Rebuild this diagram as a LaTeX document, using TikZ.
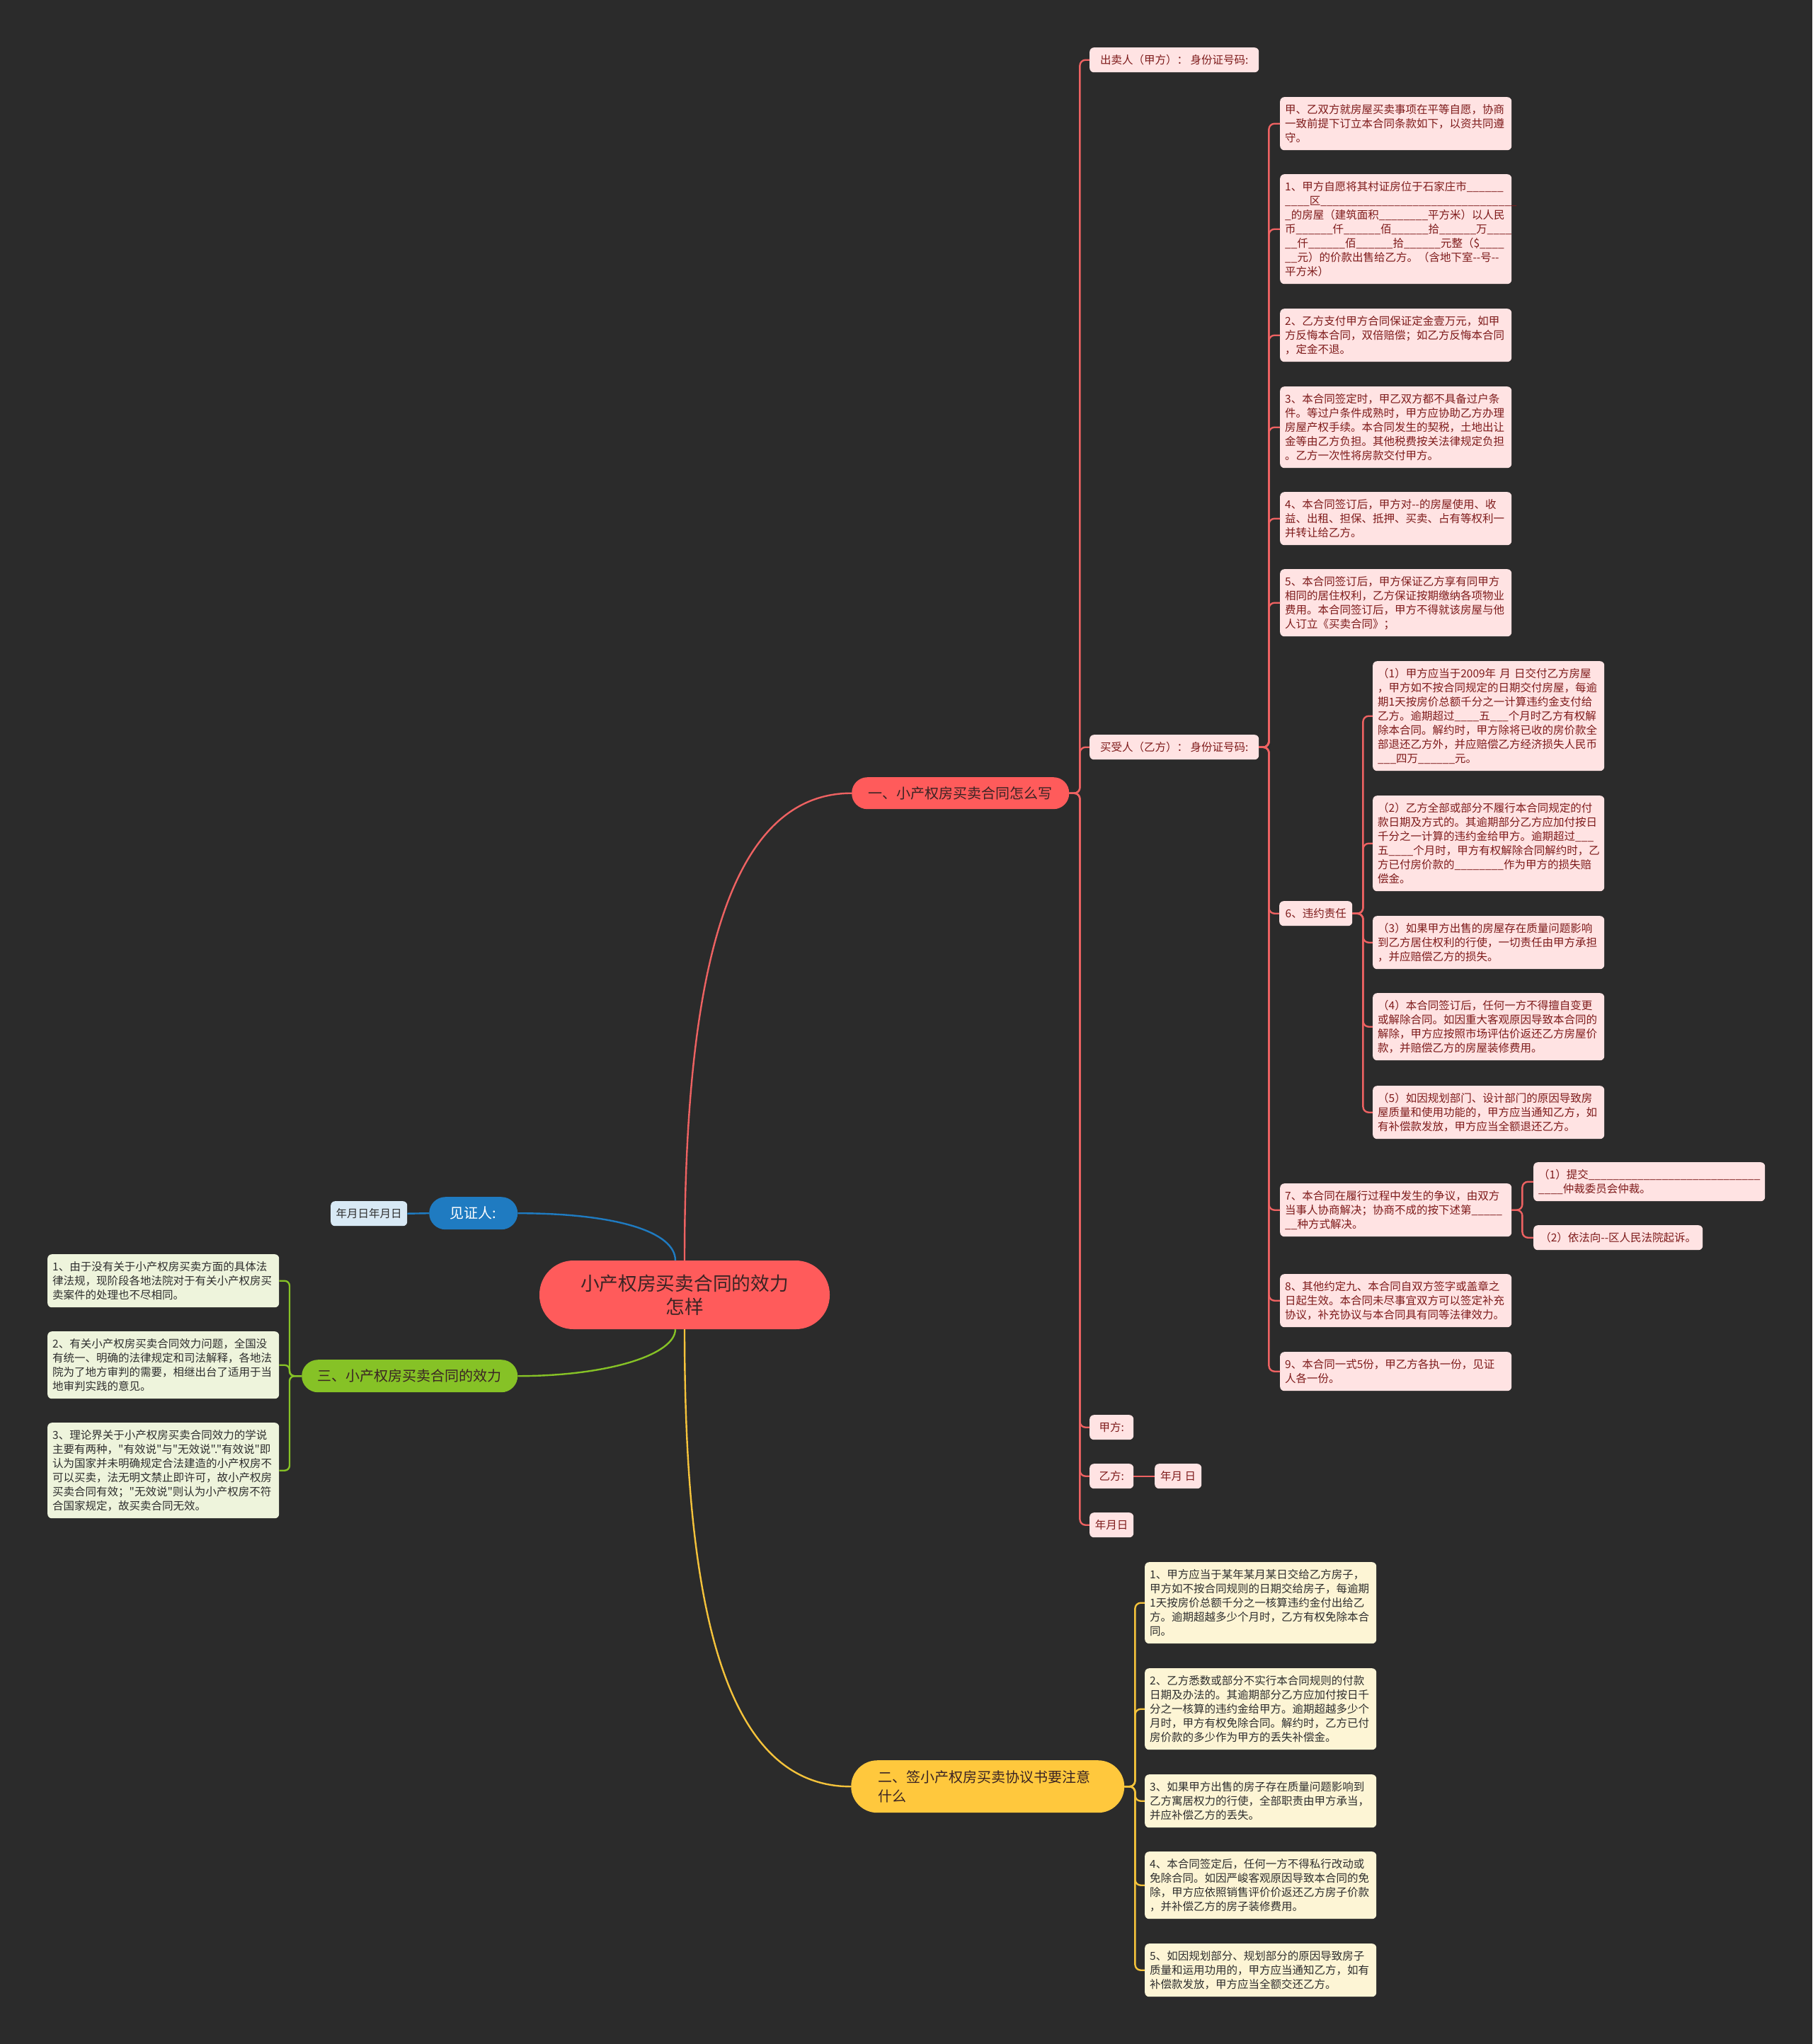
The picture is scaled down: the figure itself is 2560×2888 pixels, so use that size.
\documentclass[tikz,border=0pt]{standalone}
\usepackage{fontspec}
\setmainfont{Noto Sans CJK SC}[Ligatures=TeXOff]
\usepackage{tikz}
\usetikzlibrary{positioning}
\usepackage{xcolor}

\definecolor{bgdark}{HTML}{2B2B2B}
\definecolor{redmain}{HTML}{FF5B5B}
\definecolor{redline}{HTML}{EE6262}
\definecolor{pinkfill}{HTML}{FFE3E3}
\definecolor{pinktext}{HTML}{7E1B1B}
\definecolor{darktext}{HTML}{3A2424}
\definecolor{greenmain}{HTML}{86C226}
\definecolor{greenfill}{HTML}{EEF4DC}
\definecolor{yellowmain}{HTML}{FFC83D}
\definecolor{yellowline}{HTML}{F5C33B}
\definecolor{yellowfill}{HTML}{FDF5D5}
\definecolor{bluemain}{HTML}{1F7BC1}
\definecolor{bluefill}{HTML}{D8E9F5}
\definecolor{inktext}{HTML}{2E2E2E}

% blanks of n underscores
\newcount\uscount
\newcommand\us[1]{\uscount=#1\relax\loop\ifnum\uscount>0 \_\advance\uscount by -1\relax\repeat}

\begin{document}
\begin{tikzpicture}[x=1pt,y=-1pt,
  hub/.style={fill=redmain,text=darktext,rounded corners=48pt,align=center,
    font=\fontsize{26.7}{33}\selectfont,minimum width=410pt,minimum height=97pt,inner sep=0pt},
  branch/.style={rounded corners=#1,anchor=north west,inner sep=0pt,font=\fontsize{20}{27}\selectfont},
  leaf/.style={anchor=north west,rounded corners=6pt,inner xsep=7pt,inner ysep=2pt,
    font=\fontsize{15.5}{20}\selectfont,align=left},
  nrows/.style={minimum height=20*#1+15},
  pk/.style={leaf,fill=pinkfill,text=pinktext,text width=313pt,nrows=#1},
  pks/.style={leaf,fill=pinkfill,text=pinktext,minimum height=35pt,minimum width=#1},
  gk/.style={leaf,fill=greenfill,text=inktext,text width=313pt,nrows=#1},
  yk/.style={leaf,fill=yellowfill,text=inktext,text width=313pt,nrows=#1},
  redlink/.style={draw=redline,line width=2.4pt,rounded corners=8pt},
  yellowlink/.style={draw=yellowline,line width=2.4pt,rounded corners=8pt},
  greenlink/.style={draw=greenmain,line width=2.4pt,rounded corners=7pt},
  bluelink/.style={draw=bluemain,line width=2.4pt}]

\useasboundingbox (0,0) rectangle (2560,2888);
\fill[bgdark] (0,0) rectangle (2560,2888);

% --- central ---
\node[hub] (hub) at (967,1829.5) {小产权房买卖合同的效力\\怎样};

% --- branches ---
\node[branch=22pt,fill=redmain,text=darktext,minimum width=307pt,minimum height=45pt] (b1) at (1203,1098) {一、小产权房买卖合同怎么写};
\node[branch=37pt,fill=yellowmain,text=darktext,text width=310pt,inner xsep=38pt,minimum height=74pt,align=left] (b2) at (1202,2487) {二、签小产权房买卖协议书要注意\\什么};
\node[branch=23pt,fill=greenmain,text=darktext,minimum width=305pt,minimum height=46pt] (b3) at (426,1921) {三、小产权房买卖合同的效力};
\node[branch=23pt,fill=bluemain,text=white,minimum width=125pt,minimum height=46pt] (wit) at (606,1691) {见证人:};
\node[leaf,fill=bluefill,text=inktext,minimum height=35pt,minimum width=108pt] (wdate) at (467,1697) {年月日年月日};

% --- red: contract ---
\node[pks=239pt] (seller) at (1539,67) {出卖人（甲方）： 身份证号码:};
\node[pks=239pt] (buyer) at (1539,1038) {买受人（乙方）： 身份证号码:};
\node[pks=62pt] (pa) at (1539,1999) {甲方:};
\node[pks=62pt] (pb) at (1539,2068) {乙方:};
\node[pks=66pt] (pbd) at (1631,2068) {年月 日};
\node[pks=62pt] (pdate) at (1539,2137) {年月日};

\node[pk=3] (L0) at (1808,137) {甲、乙双方就房屋买卖事项在平等自愿，协商\\一致前提下订立本合同条款如下，以资共同遵\\守。};
\node[pk=7] (L1) at (1808,246) {1、甲方自愿将其村证房位于石家庄市\us{6}\\\us{4}区\us{32}\\\us{1}的房屋（建筑面积\us{8}平方米）以人民\\币\us{6}仟\us{6}佰\us{6}拾\us{6}万\us{4}\\\us{2}仟\us{6}佰\us{6}拾\us{6}元整（\$\us{4}\\\us{2}元）的价款出售给乙方。（含地下室--号--\\平方米）};
\node[pk=3] (L2) at (1808,436) {2、乙方支付甲方合同保证定金壹万元，如甲\\方反悔本合同，双倍赔偿；如乙方反悔本合同\\，定金不退。};
\node[pk=5] (L3) at (1808,546) {3、本合同签定时，甲乙双方都不具备过户条\\件。等过户条件成熟时，甲方应协助乙方办理\\房屋产权手续。本合同发生的契税，土地出让\\金等由乙方负担。其他税费按关法律规定负担\\。乙方一次性将房款交付甲方。};
\node[pk=3] (L4) at (1808,695) {4、本合同签订后，甲方对--的房屋使用、收\\益、出租、担保、抵押、买卖、占有等权利一\\并转让给乙方。};
\node[pk=4] (L5) at (1808,804) {5、本合同签订后，甲方保证乙方享有同甲方\\相同的居住权利，乙方保证按期缴纳各项物业\\费用。本合同签订后，甲方不得就该房屋与他\\人订立《买卖合同》；};
\node[pks=103pt] (d6) at (1807,1273) {6、违约责任};
\node[pk=3] (c7) at (1808,1672) {7、本合同在履行过程中发生的争议，由双方\\当事人协商解决；协商不成的按下述第\us{5}\\\us{2}种方式解决。};
\node[pk=3] (c8) at (1808,1800) {8、其他约定九、本合同自双方签字或盖章之\\日起生效。本合同未尽事宜双方可以签定补充\\协议，补充协议与本合同具有同等法律效力。};
\node[pk=2] (c9) at (1808,1910) {9、本合同一式5份，甲乙方各执一份，见证\\人各一份。};

\node[pk=7] (v1) at (1939,934) {（1）甲方应当于2009年 月 日交付乙方房屋\\，甲方如不按合同规定的日期交付房屋，每逾\\期1天按房价总额千分之一计算违约金支付给\\乙方。逾期超过\us{4}五\us{3}个月时乙方有权解\\除本合同。解约时，甲方除将已收的房价款全\\部退还乙方外，并应赔偿乙方经济损失人民币\\\us{3}四万\us{6}元。};
\node[pk=6] (v2) at (1939,1124) {（2）乙方全部或部分不履行本合同规定的付\\款日期及方式的。其逾期部分乙方应加付按日\\千分之一计算的违约金给甲方。逾期超过\us{3}\\五\us{4}个月时，甲方有权解除合同解约时，乙\\方已付房价款的\us{8}作为甲方的损失赔\\偿金。};
\node[pk=3] (v3) at (1939,1294) {（3）如果甲方出售的房屋存在质量问题影响\\到乙方居住权利的行使，一切责任由甲方承担\\，并应赔偿乙方的损失。};
\node[pk=4] (v4) at (1939,1403) {（4）本合同签订后，任何一方不得擅自变更\\或解除合同。如因重大客观原因导致本合同的\\解除，甲方应按照市场评估价返还乙方房屋价\\款，并赔偿乙方的房屋装修费用。};
\node[pk=3] (v5) at (1939,1534) {（5）如因规划部门、设计部门的原因导致房\\屋质量和使用功能的，甲方应当通知乙方，如\\有补偿款发放，甲方应当全额退还乙方。};

\node[pk=2] (c7a) at (2166,1642) {（1）提交\us{28}\\\us{4}仲裁委员会仲裁。};
\node[pks=239pt] (c7b) at (2166,1731) {（2）依法向--区人民法院起诉。};

% --- yellow: notes ---
\node[yk=5] (y1) at (1617,2207) {1、甲方应当于某年某月某日交给乙方房子，\\甲方如不按合同规则的日期交给房子，每逾期\\1天按房价总额千分之一核算违约金付出给乙\\方。逾期超越多少个月时，乙方有权免除本合\\同。};
\node[yk=5] (y2) at (1617,2357) {2、乙方悉数或部分不实行本合同规则的付款\\日期及办法的。其逾期部分乙方应加付按日千\\分之一核算的违约金给甲方。逾期超越多少个\\月时，甲方有权免除合同。解约时，乙方已付\\房价款的多少作为甲方的丢失补偿金。};
\node[yk=3] (y3) at (1617,2507) {3、如果甲方出售的房子存在质量问题影响到\\乙方寓居权力的行使，全部职责由甲方承当，\\并应补偿乙方的丢失。};
\node[yk=4] (y4) at (1617,2616) {4、本合同签定后，任何一方不得私行改动或\\免除合同。如因严峻客观原因导致本合同的免\\除，甲方应依照销售评价价返还乙方房子价款\\，并补偿乙方的房子装修费用。};
\node[yk=3] (y5) at (1617,2746) {5、如因规划部分、规划部分的原因导致房子\\质量和运用功用的，甲方应当通知乙方，如有\\补偿款发放，甲方应当全额交还乙方。};

% --- green: validity ---
\node[gk=3] (g1) at (67,1772) {1、由于没有关于小产权房买卖方面的具体法\\律法规，现阶段各地法院对于有关小产权房买\\卖案件的处理也不尽相同。};
\node[gk=4] (g2) at (67,1881) {2、有关小产权房买卖合同效力问题，全国没\\有统一、明确的法律规定和司法解释，各地法\\院为了地方审判的需要，相继出台了适用于当\\地审判实践的意见。};
\node[gk=6] (g3) at (67,2010) {3、理论界关于小产权房买卖合同效力的学说\\主要有两种，"有效说"与"无效说"."有效说"即\\认为国家并未明确规定合法建造的小产权房不\\可以买卖，法无明文禁止即许可，故小产权房\\买卖合同有效；"无效说"则认为小产权房不符\\合国家规定，故买卖合同无效。};

% --- connectors ---
\draw[redlink] (hub.north) .. controls +(0,-380) and +(-183,0) .. (b1.west);
\draw[yellowlink] (hub.south) .. controls +(0,380) and +(-183,0) .. (b2.west);
\draw[greenlink] (hub.255) .. controls +(0,35) and +(130,0) .. (b3.east);
\draw[bluelink] (hub.105) .. controls +(0,-40) and +(140,0) .. (wit.east);
\draw[bluelink] (wit.west) -- (wdate.east);

\foreach \n in {seller,buyer,pa,pb,pdate}
  \draw[redlink] (b1.east) -- ++(15,0) |- (\n.west);
\draw[redlink] (pb.east) -- (pbd.west);
\foreach \n in {L0,L1,L2,L3,L4,L5,d6,c7,c8,c9}
  \draw[redlink] (buyer.east) -- ++(14,0) |- (\n.west);
\foreach \n in {v1,v2,v3,v4,v5}
  \draw[redlink] (d6.east) -- ++(15,0) |- (\n.west);
\foreach \n in {c7a,c7b}
  \draw[redlink] (c7.east) -- ++(15,0) |- (\n.west);

\foreach \n in {y1,y2,y3,y4,y5}
  \draw[yellowlink] (b2.east) -- ++(15,0) |- (\n.west);
\foreach \n in {g1,g2,g3}
  \draw[greenlink] (b3.west) -- ++(-17,0) |- (\n.east);

\end{tikzpicture}
\end{document}
